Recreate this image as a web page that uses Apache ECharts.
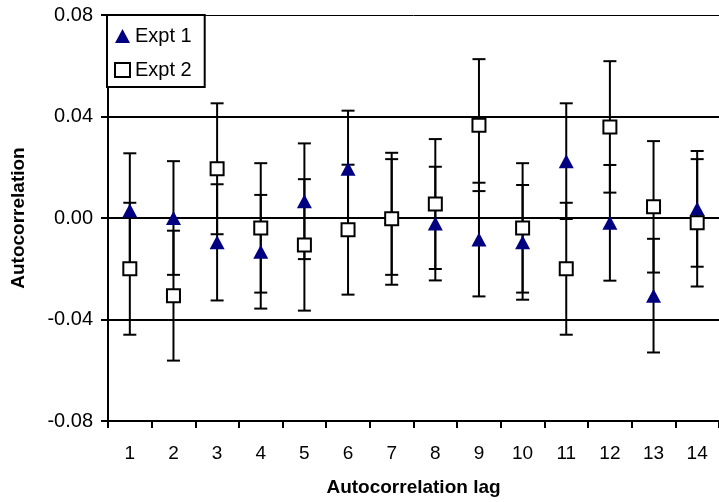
<!DOCTYPE html>
<html>
<head>
<meta charset="utf-8">
<script src="https://cdn.jsdelivr.net/npm/echarts@6/dist/echarts.min.js"></script>
<style>
  html, body { margin: 0; padding: 0; background: #fff; }
  #chart { width: 719px; height: 502px; }
</style>
</head>
<body>
<div id="chart"></div>
<script>
// Autocorrelation at lags 1..14 for two experiments, with error bars
const lags = ['1', '2', '3', '4', '5', '6', '7', '8', '9', '10', '11', '12', '13', '14'];

const expt1 = [0.0030, 0.0000, -0.0096, -0.0133, 0.0066, 0.0194, 0.0004, -0.0022, -0.0085, -0.0096, 0.0224, -0.0019, -0.0306, 0.0036];
const err1  = [0.0225, 0.0224, 0.0229, 0.0224, 0.0228, 0.0229, 0.0228, 0.0224, 0.0224, 0.0226, 0.0228, 0.0228, 0.0224, 0.0228];

const expt2 = [-0.0200, -0.0306, 0.0194, -0.0039, -0.0106, -0.0046, -0.0003, 0.0055, 0.0366, -0.0039, -0.0200, 0.0359, 0.0044, -0.0019];
const err2  = [0.0260, 0.0256, 0.0258, 0.0255, 0.0259, 0.0256, 0.0260, 0.0256, 0.0260, 0.0255, 0.0260, 0.0259, 0.0259, 0.0251];

const yTicks = [-0.08, -0.04, 0.00, 0.04, 0.08];
const gridValues = [-0.04, 0.00, 0.04];

const FONT = '"Liberation Sans", Arial, sans-serif';

function errorBarItem(params, api) {
  const x = api.value(0);
  const v = api.value(1);
  const e = api.value(2);
  const hi = api.coord([x, v + e]);
  const lo = api.coord([x, v - e]);
  const half = 6.5;
  const st = { stroke: '#000', lineWidth: 2 };
  return {
    type: 'group',
    children: [
      { type: 'line', shape: { x1: hi[0], y1: hi[1], x2: lo[0], y2: lo[1] }, style: st },
      { type: 'line', shape: { x1: hi[0] - half, y1: hi[1], x2: hi[0] + half, y2: hi[1] }, style: st },
      { type: 'line', shape: { x1: lo[0] - half, y1: lo[1], x2: lo[0] + half, y2: lo[1] }, style: st }
    ]
  };
}

const chart = echarts.init(document.getElementById('chart'), null, { renderer: 'canvas' });

chart.setOption({
  animation: false,
  backgroundColor: '#fff',
  grid: { left: 108, top: 15, width: 620, height: 407, containLabel: false },
  legend: {
    left: 107, top: 15,
    orient: 'vertical',
    backgroundColor: '#fff',
    borderColor: '#000', borderWidth: 2, borderRadius: 0,
    padding: [11, 13, 7, 7],
    itemGap: 14,
    itemWidth: 15, itemHeight: 14,
    itemTextGap: 5,
    textStyle: { fontFamily: FONT, fontSize: 20, color: '#000' },
    data: [
      { name: 'Expt 1', icon: 'triangle', itemStyle: { color: '#000080', borderWidth: 0 } },
      { name: 'Expt 2', icon: 'rect', itemStyle: { color: '#fff', borderColor: '#000', borderWidth: 2 } }
    ],
    z: 20
  },
  xAxis: {
    type: 'category',
    data: lags,
    boundaryGap: true,
    name: 'Autocorrelation lag',
    nameLocation: 'middle',
    nameGap: 57,
    nameTextStyle: { fontFamily: FONT, fontSize: 19, fontWeight: 'bold', color: '#000' },
    axisLine: { onZero: false, lineStyle: { color: '#000', width: 2 } },
    axisTick: { show: true, length: 7, lineStyle: { color: '#000', width: 2 } },
    axisLabel: { fontFamily: FONT, fontSize: 19, color: '#000', margin: 23 },
    splitLine: { show: false }
  },
  yAxis: {
    type: 'value',
    min: yTicks[0], max: yTicks[yTicks.length - 1], interval: 0.04,
    name: 'Autocorrelation',
    nameLocation: 'middle',
    nameGap: 80,
    nameRotate: 90,
    nameTextStyle: { fontFamily: FONT, fontSize: 19, fontWeight: 'bold', color: '#000' },
    axisLine: { show: true, lineStyle: { color: '#000', width: 2 } },
    axisTick: { show: true, length: 7, lineStyle: { color: '#000', width: 2 } },
    axisLabel: {
      fontFamily: FONT, fontSize: 20, color: '#000', margin: 15,
      formatter: v => (Math.abs(v) < 1e-9 ? 0 : v).toFixed(2)
    },
    splitLine: { show: false }
  },
  series: [
    {
      // horizontal reference lines
      type: 'line',
      data: [],
      silent: true,
      markLine: {
        silent: true,
        symbol: 'none',
        label: { show: false },
        animation: false,
        data: gridValues.map(v => ({ yAxis: v, lineStyle: { color: '#000', width: 2, type: 'solid' } }))
          .concat([{ yAxis: yTicks[yTicks.length - 1], lineStyle: { color: '#000', width: 1, type: 'solid' } }])
      },
      z: 1
    },
    {
      type: 'custom',
      name: 'err1',
      renderItem: errorBarItem,
      encode: { x: 0, y: 1 },
      data: expt1.map((v, i) => [i, v, err1[i]]),
      silent: true,
      z: 3
    },
    {
      type: 'custom',
      name: 'err2',
      renderItem: errorBarItem,
      encode: { x: 0, y: 1 },
      data: expt2.map((v, i) => [i, v, err2[i]]),
      silent: true,
      z: 3
    },
    {
      type: 'scatter',
      name: 'Expt 1',
      data: expt1,
      symbol: 'triangle',
      symbolSize: [15, 14],
      itemStyle: { color: '#000080', opacity: 1 },
      z: 5
    },
    {
      type: 'scatter',
      name: 'Expt 2',
      data: expt2,
      symbol: 'rect',
      symbolSize: 13,
      itemStyle: { color: '#fff', borderColor: '#000', borderWidth: 2, opacity: 1 },
      z: 6
    }
  ]
});
</script>
</body>
</html>
